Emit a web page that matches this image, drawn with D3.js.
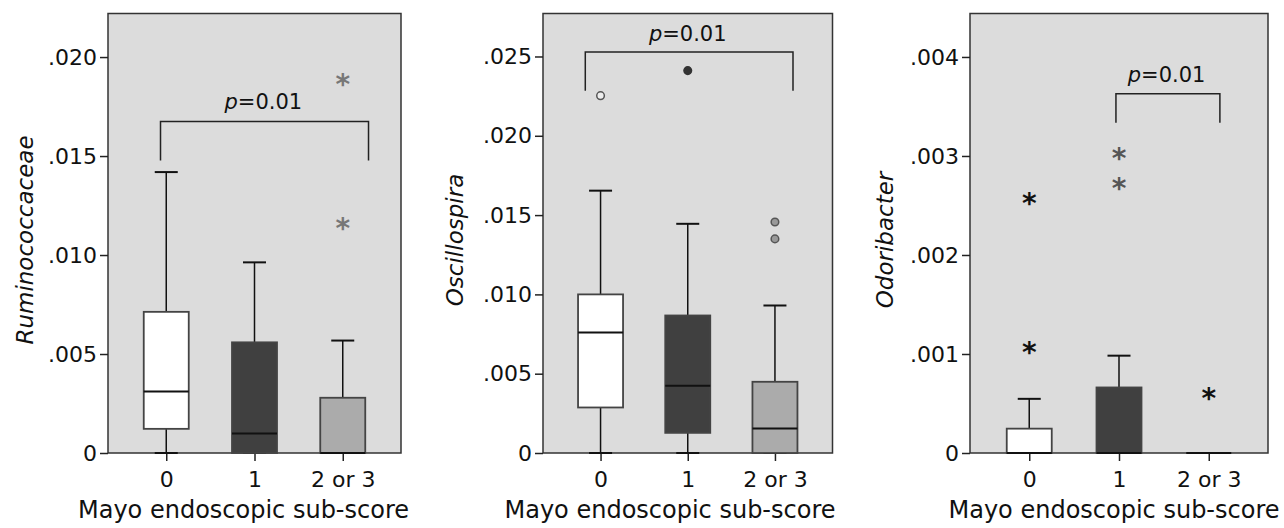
<!DOCTYPE html>
<html lang="en">
<head>
<meta charset="utf-8">
<title>Mayo sub-score boxplots</title>
<script src="https://d3js.org/d3.v7.min.js"></script>
<style>
  body { margin: 0; background: #fff; }
  text { font-family: "DejaVu Sans", Verdana, sans-serif; fill: #111; }
</style>
</head>
<body>
<script>
// categories on the x axis
var categories = ["0", "1", "2 or 3"];

// box stats per category: [min, q1, median, q3, max]
var ruminoBoxes = [
  [0, 0.00122, 0.00311, 0.00713, 0.01419],
  [0, 0, 0.00098, 0.00559, 0.00963],
  [0, 0, 0, 0.00279, 0.00568]
];
var ruminoOutliers = [[2, 0.01885], [2, 0.01159]];   // [category index, value]
var ruminoTicks = [0, 0.005, 0.010, 0.015, 0.020];

var oscilloBoxes = [
  [0, 0.00287, 0.0076, 0.0100, 0.01654],
  [0, 0.00127, 0.00424, 0.00867, 0.01445],
  [0, 0, 0.00154, 0.00449, 0.0093]
];
var oscilloOutliers = [[0, 0.02253], [1, 0.02411], [2, 0.01456], [2, 0.0135]];
var oscilloTicks = [0, 0.005, 0.010, 0.015, 0.020, 0.025];

var odoriBoxes = [
  [0, 0, 0, 0.000246, 0.000547],
  [0, 0, 0, 0.000662, 0.000983],
  [0, 0, 0, 0, 0]
];
var odoriOutliers = [[0, 0.00257], [0, 0.001057], [1, 0.003015], [1, 0.00272], [2, 0.000594]];
var odoriTicks = [0, 0.001, 0.002, 0.003, 0.004];

// significance brackets: [left (category units), right, top value, foot value, label value, label x]
var ruminoBracket = [-0.065, 2.292, 0.01675, 0.01478, 0.01737, 1.10];
var oscilloBracket = [-0.175, 2.207, 0.02528, 0.02284, 0.02600, 1.0];
var odoriBracket = [0.966, 2.124, 0.003629, 0.003336, 0.00375, 1.53];

var pLabel = "0.01";

var w = 1284, h = 528;
var plotTop = 13.5, plotBottom = 453;
var boxFills = ["#ffffff", "#404040", "#ababab"];

var svg = d3.select("body").append("svg").attr("width", w).attr("height", h);

function fmt(v) {
  if (v === 0) return "0";
  return d3.format(".3f")(v).replace(/^0/, "");
}

function drawPanel(p) {
  var g = svg.append("g");
  var x = d3.scalePoint().domain([0, 1, 2]).range([p.left, p.right]).padding(0.66);
  var step = x.step();
  // linear version of x for annotation positions in category units
  var xi = d3.scaleLinear().domain([0, 1]).range([x(0), x(0) + step]);
  var y = d3.scaleLinear().domain([0, p.ymax]).range([plotBottom, plotTop]);

  g.append("rect").attr("x", p.left).attr("y", plotTop)
    .attr("width", p.right - p.left).attr("height", plotBottom - plotTop)
    .attr("fill", "#dcdcdc").attr("stroke", "#333").attr("stroke-width", 1.5);

  // y axis
  var ya = g.append("g").attr("transform", "translate(" + p.left + ",0)")
    .call(d3.axisLeft(y).tickValues(p.ticks).tickFormat(fmt).tickSize(8).tickPadding(3));
  ya.select(".domain").remove();
  ya.selectAll("line").attr("stroke", "#222").attr("stroke-width", 1.5);
  ya.selectAll("text").attr("font-size", 22).attr("fill", "#111")
    .attr("font-family", "DejaVu Sans");

  // x axis
  var xa = g.append("g").attr("transform", "translate(0," + plotBottom + ")")
    .call(d3.axisBottom(x).tickFormat(function(d) { return categories[d]; }).tickSize(8).tickPadding(10));
  xa.select(".domain").remove();
  xa.selectAll("line").attr("stroke", "#222").attr("stroke-width", 1.5);
  xa.selectAll("text").attr("font-size", 22).attr("fill", "#111")
    .attr("font-family", "DejaVu Sans");

  // boxes
  var bw = 45, cw = 23;
  p.boxes.forEach(function(b, i) {
    var cx = x(i);
    // whiskers
    g.append("line").attr("x1", cx).attr("x2", cx).attr("y1", y(b[3])).attr("y2", y(b[4]))
      .attr("stroke", "#111").attr("stroke-width", 1.5);
    g.append("line").attr("x1", cx).attr("x2", cx).attr("y1", y(b[1])).attr("y2", y(b[0]))
      .attr("stroke", "#111").attr("stroke-width", 1.5);
    g.append("line").attr("x1", cx - cw / 2).attr("x2", cx + cw / 2).attr("y1", y(b[4])).attr("y2", y(b[4]))
      .attr("stroke", "#111").attr("stroke-width", 2);
    g.append("line").attr("x1", cx - cw / 2).attr("x2", cx + cw / 2).attr("y1", y(b[0])).attr("y2", y(b[0]))
      .attr("stroke", "#111").attr("stroke-width", 2);
    g.append("rect").attr("x", cx - bw / 2).attr("y", y(b[3]))
      .attr("width", bw).attr("height", y(b[1]) - y(b[3]))
      .attr("fill", boxFills[i]).attr("stroke", "#444").attr("stroke-width", 1.8);
    g.append("line").attr("x1", cx - bw / 2).attr("x2", cx + bw / 2).attr("y1", y(b[2])).attr("y2", y(b[2]))
      .attr("stroke", "#111").attr("stroke-width", 2);
  });

  // outliers
  p.outliers.forEach(function(o) {
    var cx = x(o[0]), cy = y(o[1]);
    if (p.mark === "circle") {
      g.append("circle").attr("cx", cx).attr("cy", cy).attr("r", 3.8)
        .attr("fill", p.markFill[o[0]]).attr("stroke", p.markStroke[o[0]]).attr("stroke-width", 1.5);
    } else {
      g.append("text").attr("x", cx).attr("y", cy).attr("dy", "0.5em")
        .attr("text-anchor", "middle").attr("font-size", 28).attr("font-weight", "bold")
        .style("fill", p.markFill[o[0]]).text("*");
    }
  });

  // significance bracket
  var br = p.bracket;
  g.append("path")
    .attr("d", "M" + xi(br[0]) + "," + y(br[3]) + "V" + y(br[2]) + "H" + xi(br[1]) + "V" + y(br[3]))
    .attr("fill", "none").attr("stroke", "#222").attr("stroke-width", 1.5);
  var t = g.append("text").attr("x", xi(br[5])).attr("y", y(br[4]))
    .attr("text-anchor", "middle").attr("font-size", 21);
  t.append("tspan").attr("font-style", "italic").text("p");
  t.append("tspan").text("=" + pLabel);

  // axis titles
  g.append("text").attr("transform", "translate(" + p.ytitleX + ",240) rotate(-90)")
    .attr("text-anchor", "middle").attr("font-size", 23).attr("font-style", "italic").text(p.ytitle);
  g.append("text").attr("x", p.xtitleX).attr("y", 518)
    .attr("text-anchor", "middle").attr("font-size", 24).text("Mayo endoscopic sub-score");
}

drawPanel({
  left: 108, right: 401, ymax: 0.0222, ticks: ruminoTicks, boxes: ruminoBoxes,
  outliers: ruminoOutliers, bracket: ruminoBracket, mark: "star",
  markFill: ["#777", "#777", "#777"], ytitle: "Ruminococcaceae", ytitleX: 33, xtitleX: 243.5
});
drawPanel({
  left: 543, right: 832.5, ymax: 0.02771, ticks: oscilloTicks, boxes: oscilloBoxes,
  outliers: oscilloOutliers, bracket: oscilloBracket, mark: "circle",
  markFill: ["#eeeeee", "#333333", "#999999"], markStroke: ["#555", "#333", "#555"],
  ytitle: "Oscillospira", ytitleX: 463, xtitleX: 670
});
drawPanel({
  left: 970, right: 1268, ymax: 0.004439, ticks: odoriTicks, boxes: odoriBoxes,
  outliers: odoriOutliers, bracket: odoriBracket, mark: "star",
  markFill: ["#111", "#555", "#111"], ytitle: "Odoribacter", ytitleX: 893, xtitleX: 1114
});
</script>
</body>
</html>
